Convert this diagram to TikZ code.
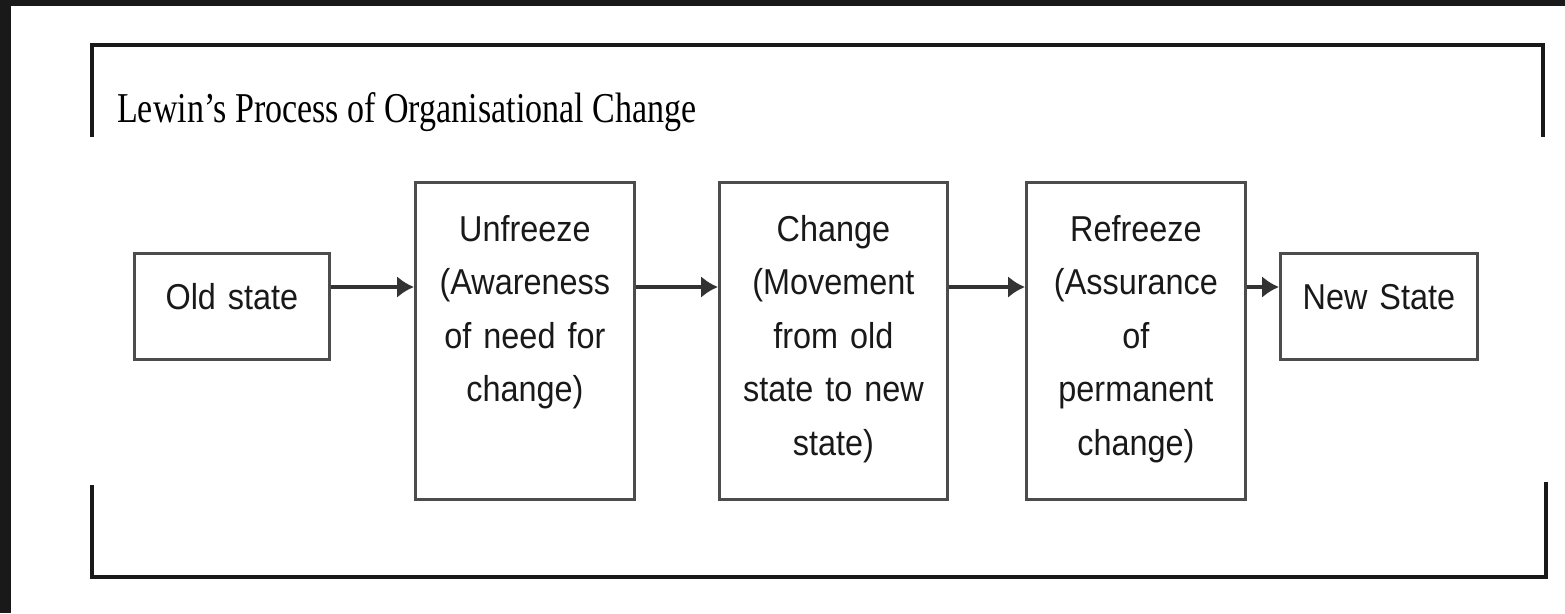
\documentclass[tikz,border=0pt]{standalone}
\usepackage{fontspec}
\newfontfamily\boxfont{Liberation Sans}[FakeStretch=0.9]
\newfontfamily\titlefont{Liberation Serif}[FakeStretch=0.8]
\usetikzlibrary{arrows.meta,positioning}
\tikzset{
    stage/.style={draw=black!70,line width=2.8pt,inner xsep=0pt,inner ysep=0pt,align=center,anchor=north west,font=\boxfont\fontsize{36}{53.5}\selectfont,text=black!90},
    tall/.style={stage,text height=59pt,text depth=258pt},
    short/.style={stage,text height=56pt,text depth=50pt},
    flow/.style={-{Latex[length=17pt,width=22pt]},line width=4pt,draw=black!80},
    frame/.style={line width=3.5pt,draw=black!90},
}

\begin{document}
\begin{tikzpicture}[x=1pt,y=-1pt]
\useasboundingbox (0,0) rectangle (1565,613);
% dark edge of the screenshot
                \fill[black!90] (0,0) rectangle (1565,6);
                \fill[black!90] (0,0) rectangle (11,613);
% Open frame
                \draw[frame] (92,137) -- (92,45) -- (1543,45) -- (1543,137);
                \draw[frame] (92,485) -- (92,577) -- (1546,577) -- (1546,482);
% Title
                \node[anchor=base west,inner sep=0pt,font=\titlefont\fontsize{42.5}{50}\selectfont,text=black] (title) at (117,122) {Lewin’s Process of Organisational Change};
% --- Stages ---
                \node[short,text width=195pt] (old) at (133,252) {Old state};
                \node[tall,text width=219pt] (unfreeze) at (414,181) {Unfreeze\\(Awareness\\of need for\\change)};
                \node[tall,text width=228pt] (change) at (718,181) {Change\\(Movement\\from old\\state to new\\state)};
                \node[tall,text width=219pt] (refreeze) at (1025,181) {Refreeze\\(Assurance\\of\\permanent\\change)};
                \node[short,text width=197pt] (new) at (1279,252) {New State};
% --- Arrows ---
                \coordinate (lane) at (0,287);
                \foreach \a/\b in {old/unfreeze,unfreeze/change,change/refreeze,refreeze/new}
                    \draw[flow] (\a.east |- lane) -- (\b.west |- lane);
\end{tikzpicture}
\end{document}
